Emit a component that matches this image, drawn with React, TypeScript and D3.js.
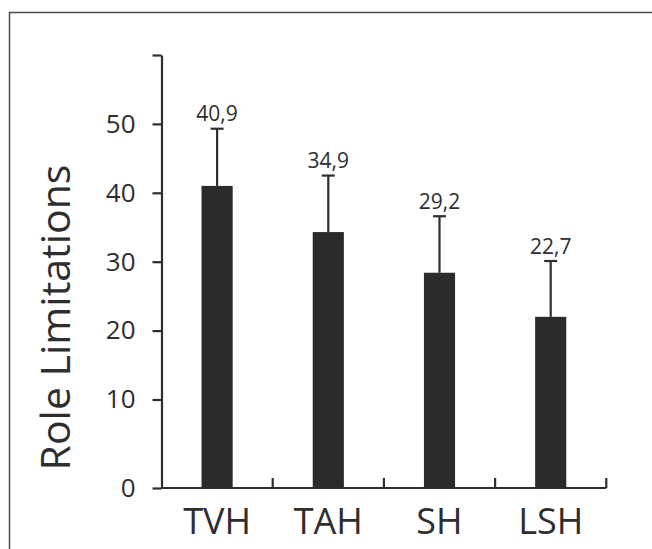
import { useEffect, useRef } from 'react';
import * as d3 from 'd3';

// Chart data
const categories = ['TVH', 'TAH', 'SH', 'LSH'];
const means = [41.0, 34.3, 28.4, 22.0];
const errors = [8.3, 8.2, 8.2, 8.1];
const valueLabels = ['40,9', '34,9', '29,2', '22,7'];
const yTicks = [0, 10, 20, 30, 40, 50, 60];
const yTitle = 'Role Limitations';

const W = 652;
const H = 549;
const FONT = '"Open Sans", sans-serif';
const INK = '#2e2e2e';

export default function App() {
  const svgRef = useRef<SVGSVGElement>(null);

  useEffect(() => {
    if (!svgRef.current) return;
    const svg = d3.select(svgRef.current);
    svg.selectAll('*').remove();

    const axisX = 161.5;
    const axisRight = 606.3;
    const baseY = 488;

    // frame (only top and left visible in the reference)
    svg.append('path')
      .attr('d', `M9.5,${H} V12.5 H${W}`)
      .attr('fill', 'none')
      .attr('stroke', '#4a4a4a')
      .attr('stroke-width', 1.5);

    // the original axis has a stretched 0–10 segment
    const y = d3.scaleLinear().domain([0, 10, 60]).range([baseY, 399.5, 55]);

    const x = d3.scaleBand<string>()
      .domain(categories)
      .range([axisX, axisRight])
      .paddingInner(0.72)
      .paddingOuter(0.36);

    // y axis
    const yAxis = svg.append('g')
      .attr('transform', `translate(${axisX},0)`)
      .call(
        d3.axisLeft(y)
          .tickValues(yTicks)
          .tickFormat((d: any) => (d === 60 ? '' : String(d)))
          .tickSize(9)
          .tickSizeOuter(0)
          .tickPadding(17)
      );
    yAxis.selectAll('path, line')
      .attr('stroke', INK)
      .attr('stroke-width', 2.2);
    yAxis.selectAll('text')
      .attr('font-family', FONT)
      .attr('font-size', 26)
      .attr('fill', INK);

    // x axis baseline with upward ticks at category boundaries
    svg.append('line')
      .attr('x1', axisX)
      .attr('x2', axisRight)
      .attr('y1', baseY)
      .attr('y2', baseY)
      .attr('stroke', INK)
      .attr('stroke-width', 2.2);

    categories.forEach((_, i) => {
      const bx = axisX + x.step() * (i + 1);
      svg.append('line')
        .attr('x1', bx)
        .attr('x2', bx)
        .attr('y1', baseY)
        .attr('y2', baseY - 10)
        .attr('stroke', INK)
        .attr('stroke-width', 2.2);
    });

    // error bars (drawn first so bars cover the lower part)
    categories.forEach((c, i) => {
      const cx = (x(c) as number) + x.bandwidth() / 2;
      const top = y(means[i] + errors[i]);
      svg.append('line')
        .attr('x1', cx).attr('x2', cx)
        .attr('y1', y(means[i])).attr('y2', top)
        .attr('stroke', INK)
        .attr('stroke-width', 2.2);
      svg.append('line')
        .attr('x1', cx - 6.5).attr('x2', cx + 6.5)
        .attr('y1', top).attr('y2', top)
        .attr('stroke', INK)
        .attr('stroke-width', 2.2);

      svg.append('text')
        .attr('x', cx)
        .attr('y', top - 7.5)
        .attr('text-anchor', 'middle')
        .attr('font-family', FONT)
        .attr('font-size', 21)
        .attr('fill', INK)
        .text(valueLabels[i]);
    });

    // bars
    svg.selectAll('rect.bar')
      .data(categories)
      .enter()
      .append('rect')
      .attr('class', 'bar')
      .attr('x', d => x(d) as number)
      .attr('y', (_, i) => y(means[i]))
      .attr('width', x.bandwidth())
      .attr('height', (_, i) => baseY - y(means[i]))
      .attr('fill', '#2b2b2b');

    // category labels
    categories.forEach(c => {
      svg.append('text')
        .attr('x', (x(c) as number) + x.bandwidth() / 2)
        .attr('y', 534)
        .attr('text-anchor', 'middle')
        .attr('font-family', FONT)
        .attr('font-size', 36)
        .attr('fill', INK)
        .text(c);
    });

    // y axis title
    svg.append('text')
      .attr('transform', 'translate(70,317.5) rotate(-90)')
      .attr('text-anchor', 'middle')
      .attr('font-family', FONT)
      .attr('font-size', 41)
      .attr('fill', INK)
      .text(yTitle);
  }, []);

  return (
    <svg
      ref={svgRef}
      width={W}
      height={H}
      style={{ position: 'absolute', left: 0, top: 0, background: '#fff' }}
    />
  );
}
